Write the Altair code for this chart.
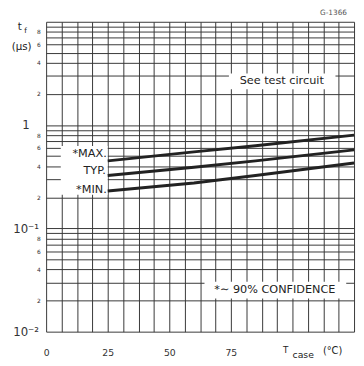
import altair as alt
import pandas as pd

# ---- data ----
temps = [25, 60, 85, 125]
tf_max = [0.45, 0.55, 0.63, 0.80]
tf_typ = [0.325, 0.39, 0.45, 0.575]
tf_min = [0.23, 0.275, 0.325, 0.43]

x_grid = [i * 6.25 for i in range(21)]
x_labels = [0, 25, 50, 75]
y_grid = [m * d for d in (0.01, 0.1, 1) for m in range(1, 10)] + [10]

rows = []
for name, vals in (("MAX", tf_max), ("TYP", tf_typ), ("MIN", tf_min)):
    for t, v in zip(temps, vals):
        rows.append({"series": name, "t": t, "v": v})
df = pd.DataFrame(rows)

INK = "#222222"
GRID = "#363636"
FONT = "DejaVu Sans"

ylab_expr = (
    "datum.value == 1 ? '1' : datum.value == 0.1 ? '10\u207b\u00b9' : "
    "datum.value == 0.01 ? '10\u207b\u00b2' : datum.value >= 9.99 ? '' : "
    "(round(datum.value / pow(10, floor(log(datum.value)/LN10 + 1e-9))) % 2 == 0 ? "
    "format(round(datum.value / pow(10, floor(log(datum.value)/LN10 + 1e-9))), 'd') : '')"
)
big_test = "datum.value == 1 || datum.value == 0.1 || datum.value == 0.01"

xenc = alt.X(
    "t:Q",
    scale=alt.Scale(domain=[0, 125], nice=False, zero=False),
    axis=alt.Axis(
        values=x_grid,
        labelExpr="(datum.value % 25 == 0 && datum.value <= 75) ? datum.label : ''",
        ticks=False, domain=False, grid=True, gridColor=GRID, gridWidth=1,
        labelOverlap=False, labelFlush=False, labelFont=FONT, labelFontSize=9.5,
        labelColor="#333", labelPadding=21, labelBaseline="middle", title=None,
    ),
)
yenc = alt.Y(
    "v:Q",
    scale=alt.Scale(type="log", domain=[0.01, 10], nice=False),
    axis=alt.Axis(
        values=y_grid, labelExpr=ylab_expr,
        ticks=False, domain=False, grid=True, gridColor=GRID, gridWidth=1,
        labelOverlap=False, labelFlush=False, labelFont=FONT,
        labelFontSize={"condition": {"test": big_test, "value": 12}, "value": 6},
        labelAlign={"condition": {"test": big_test, "value": "center"}, "value": "right"},
        labelPadding={"condition": {"test": big_test, "value": 21}, "value": 6},
        labelBaseline="middle", labelColor="#333", title=None,
    ),
)

lines = alt.Chart(df).mark_line(color=INK, strokeWidth=3).encode(
    x=xenc, y=yenc, detail="series:N"
)

one = pd.DataFrame({"a": [0]})


def box(x1, x2, y1, y2):
    return alt.Chart(one).mark_rect(fill="white").encode(
        x=alt.value(x1), x2=alt.value(x2), y=alt.value(y1), y2=alt.value(y2)
    )


def txt(s, x, y, size=10, align="center", color=INK):
    return alt.Chart(one).mark_text(
        text=s, align=align, baseline="middle", font=FONT, fontSize=size,
        color=color,
    ).encode(x=alt.value(x), y=alt.value(y))


layers = [
    box(15, 63, 127, 177),
    box(187, 296, 53, 69),
    box(162, 307, 266, 283),
    lines,
    txt("*MAX.", 62, 135, size=11.5, align="right"),
    txt("TYP.", 61, 153, size=11.5, align="right"),
    txt("*MIN.", 62, 172, size=11.5, align="right"),
    txt("See test circuit", 241, 61, size=11.5),
    txt("*\u223c 90% CONFIDENCE", 234, 274, size=11.5),
    txt("G-1366", 294, -9, size=7.5, color="#555"),
    txt("t", -27, 5, size=10.5),
    txt("f", -21, 9, size=7.5),
    txt("(\u00b5s)", -25, 26, size=10.5),
    txt("T", 245, 336, size=9),
    txt("case", 263, 341, size=9.5),
    txt("(\u00b0C)", 293, 337, size=10),
]

chart = alt.layer(*layers).properties(
    width=315, height=317,
    autosize=alt.AutoSizeParams(type="none"),
    padding={"left": 39, "top": 10, "right": 2, "bottom": 30},
    background="white",
).configure_view(strokeWidth=0)

chart.save("out.html", embed_options={"renderer": "svg", "actions": False})
